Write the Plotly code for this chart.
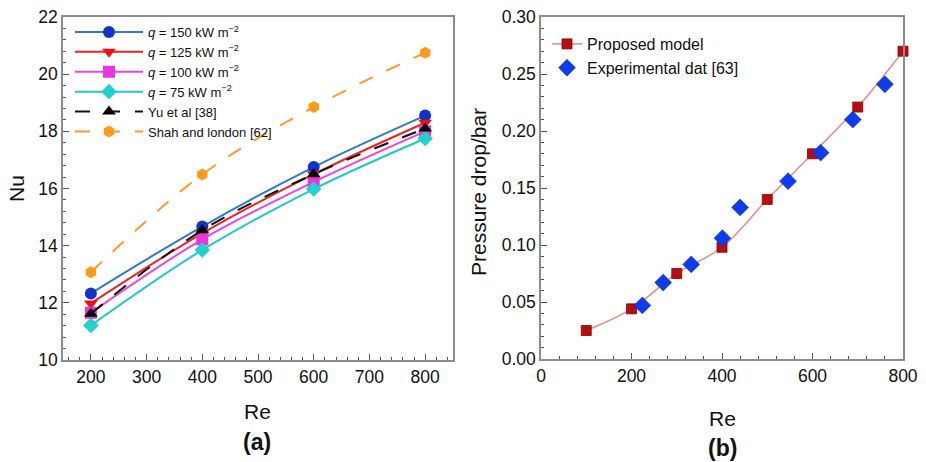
import plotly.graph_objects as go

# ---- Panel (a) data ----
re_a = [200, 400, 600, 800]
nu_150 = [12.33, 14.67, 16.75, 18.55]
nu_125 = [11.98, 14.43, 16.5, 18.3]
nu_100 = [11.65, 14.22, 16.23, 18.0]
nu_75 = [11.21, 13.85, 15.98, 17.75]
nu_yu = [11.62, 14.54, 16.5, 18.1]
nu_shah = [13.07, 16.49, 18.85, 20.75]

# ---- Panel (b) data ----
re_model = [100, 200, 300, 400, 500, 600, 700, 800]
dp_model = [0.025, 0.044, 0.075, 0.098, 0.140, 0.180, 0.221, 0.270]
re_exp = [224, 270, 332, 401, 440, 546, 618, 689, 760]
dp_exp = [0.047, 0.067, 0.083, 0.106, 0.133, 0.156, 0.181, 0.210, 0.241]

FONT = "Liberation Sans, Arial, Helvetica, sans-serif"
W, H = 926, 462

fig = go.Figure()

series_a = [
    (nu_150, "<i>q</i> = 150 kW m<sup>−2</sup>", "#2b7cc4", "#1233c8", "circle", "solid"),
    (nu_125, "<i>q</i> = 125 kW m<sup>−2</sup>", "#ee2222", "#ee1111", "triangle-down", "solid"),
    (nu_100, "<i>q</i> = 100 kW m<sup>−2</sup>", "#ee44dd", "#ee33dd", "square", "solid"),
    (nu_75, "<i>q</i> = 75 kW m<sup>−2</sup>", "#22c8c8", "#22d0d0", "diamond", "solid"),
    (nu_yu, "Yu et al [38]", "#111111", "#000000", "triangle-up", "longdash"),
    (nu_shah, "Shah and london [62]", "#ff9a2a", "#ff9a1a", "hexagon", "longdash"),
]
for ys, name, lc, mc, sym, dash in series_a:
    fig.add_trace(go.Scatter(
        x=re_a, y=ys, name=name, mode="lines+markers",
        line=dict(color=lc, width=2, dash=dash, shape="spline"),
        marker=dict(color=mc, symbol=sym, size=12, line=dict(width=0)),
        xaxis="x", yaxis="y", legend="legend", cliponaxis=False,
    ))

fig.add_trace(go.Scatter(
    x=re_model, y=dp_model, name="Proposed model", mode="lines+markers",
    line=dict(color="#e58a8a", width=1.5, shape="spline"),
    marker=dict(color="#b80d0d", symbol="square", size=10, line=dict(width=0.8, color="#8a0000")),
    xaxis="x2", yaxis="y2", legend="legend2", cliponaxis=False,
))
fig.add_trace(go.Scatter(
    x=re_exp, y=dp_exp, name="Experimental dat [63]", mode="markers",
    marker=dict(color="#0b3cf0", symbol="diamond", size=13, line=dict(width=0.6, color="#1a2f9a")),
    xaxis="x2", yaxis="y2", legend="legend2", cliponaxis=False,
))

frame = "#8c8c8c"
common = dict(showline=True, linecolor=frame, linewidth=1.5, mirror=True,
              ticks="inside", ticklen=6, tickcolor="#555", tickwidth=1,
              showgrid=False, zeroline=False, automargin=False,
              tickfont=dict(family=FONT, size=17.5, color="#111"))

def label(text, x, y, size, angle=0):
    return dict(text=text, x=x / W, y=1 - y / H, xref="paper", yref="paper",
                xanchor="center", yanchor="middle", showarrow=False,
                textangle=angle, font=dict(family=FONT, size=size, color="#111"))

fig.update_layout(
    width=W, height=H,
    margin=dict(l=0, r=0, t=0, b=0, autoexpand=False),
    paper_bgcolor="white", plot_bgcolor="white",
    font=dict(family=FONT, color="#111"),
    xaxis=dict(domain=[63 / W, 453 / W], range=[150, 850], anchor="y",
               tickvals=[200, 300, 400, 500, 600, 700, 800],
               minor=dict(ticks="inside", dtick=20, tick0=0, ticklen=3, tickcolor="#555"),
               **common),
    yaxis=dict(domain=[(H - 360) / H, (H - 17) / H], range=[10, 22], anchor="x",
               tickvals=[10, 12, 14, 16, 18, 20, 22],
               minor=dict(ticks="inside", dtick=0.4, tick0=10, ticklen=3, tickcolor="#555"),
               **common),
    xaxis2=dict(domain=[541 / W, 903 / W], range=[0, 800], anchor="y2",
                tickvals=[0, 200, 400, 600, 800],
                minor=dict(ticks="inside", dtick=40, tick0=0, ticklen=3, tickcolor="#555"),
                **common),
    yaxis2=dict(domain=[(H - 359) / H, (H - 17) / H], range=[0, 0.30], anchor="x2",
                tickvals=[0, 0.05, 0.10, 0.15, 0.20, 0.25, 0.30], tickformat=".2f",
                minor=dict(ticks="inside", dtick=0.01, tick0=0, ticklen=3, tickcolor="#555"),
                **common),
    legend=dict(x=70 / W, y=1 - 17 / H, xanchor="left", yanchor="top",
                bgcolor="rgba(0,0,0,0)", borderwidth=0, itemwidth=68,
                tracegroupgap=0, font=dict(family=FONT, size=13, color="#111")),
    legend2=dict(x=547 / W, y=1 - 27 / H, xanchor="left", yanchor="top",
                 bgcolor="rgba(0,0,0,0)", borderwidth=0,
                 font=dict(family=FONT, size=16, color="#111")),
    annotations=[
        label("Nu", 16, 189, 21, -90),
        label("Re", 257, 411, 21),
        label("<b>(a)</b>", 257, 442, 23),
        label("Pressure drop/bar", 478, 192, 21, -90),
        label("Re", 722, 418, 21),
        label("<b>(b)</b>", 722, 448, 23),
    ],
)

fig.write_html("out.html", config={"displayModeBar": False},
               post_script="document.body.style.margin='0px';")
